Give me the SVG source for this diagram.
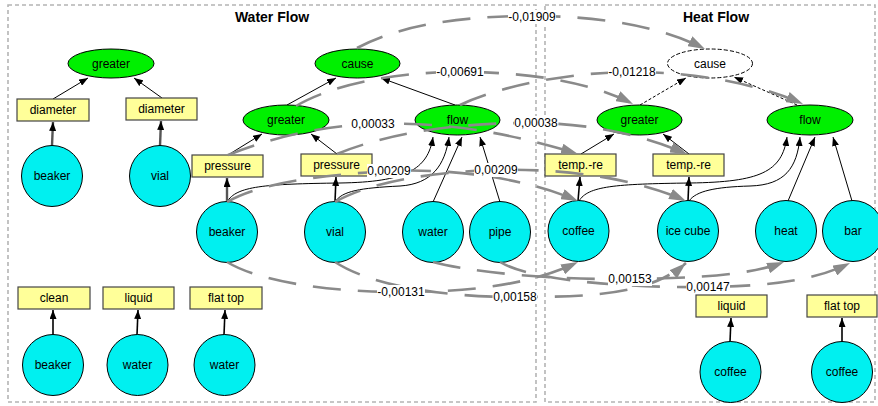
<svg xmlns="http://www.w3.org/2000/svg" width="878" height="406" viewBox="0 0 878 406">
<defs>
<marker id="ab" markerUnits="userSpaceOnUse" markerWidth="9" markerHeight="7" refX="9" refY="3.5" orient="auto"><path d="M0,0 L9,3.5 L0,7 z" fill="#000"/></marker>
<marker id="ag" markerUnits="userSpaceOnUse" markerWidth="17" markerHeight="11" refX="17" refY="5.5" orient="auto"><path d="M0,0 L17,5.5 L0,11 z" fill="#8a8a8a"/></marker>
<style>
.frame{fill:none;stroke:#b4b4b4;stroke-width:1.6;stroke-dasharray:4,3}
.title{font-family:"Liberation Sans",Arial,sans-serif;font-size:14px;font-weight:bold;fill:#000;text-anchor:middle}
.t{font-family:"Liberation Sans",Arial,sans-serif;font-size:12px;fill:#000;text-anchor:middle}
.ell{fill:#00f000;stroke:#000;stroke-width:1}
.ellw{fill:#fff;stroke:#000;stroke-width:1;stroke-dasharray:4,2}
.cir{fill:#00f0f0;stroke:#000;stroke-width:1}
.box{fill:#ffff99;stroke:#444;stroke-width:1.2}
.a{fill:none;stroke:#000;stroke-width:1;marker-end:url(#ab)}
.av{fill:none;stroke:#000;stroke-width:1.6;marker-end:url(#ab)}
.avg{fill:none;stroke:#555;stroke-width:2.4;marker-end:url(#ab)}
.ad{fill:none;stroke:#000;stroke-width:1;stroke-dasharray:3,2;marker-end:url(#ab)}
.m{fill:none;stroke:#8a8a8a;stroke-width:2.6;stroke-dasharray:28,17;marker-end:url(#ag)}
.lb{fill:#fff}
</style>
</defs>
<rect width="878" height="406" fill="#fff"/>
<g id="frames">
<rect class="frame" x="8" y="5" width="528" height="397"/>
<rect class="frame" x="545" y="5" width="330" height="397"/>
<text class="title" x="272" y="22">Water Flow</text>
<text class="title" x="716" y="22">Heat Flow</text>
</g>
<g id="structure-arrows">
<path class="avg" d="M52,146 L53,122"/>
<path class="avg" d="M160,146 L161,121"/>
<path class="a" d="M53,99 L88,78"/>
<path class="a" d="M162,98 L134,78"/>
<path class="avg" d="M227,202 L227,178"/>
<path class="av" d="M335,202 L336,177"/>
<path class="a" d="M228,155 L262,134"/>
<path class="a" d="M337,154 L311,134"/>
<path class="a" d="M287,105 L336,78"/>
<path class="a" d="M455,105 L381,78"/>
<path class="a" d="M227,202 C236,186 265,184 340,183 C405,182 428,170 433,137"/>
<path class="a" d="M335,202 C342,191 360,188 400,186 C432,184 445,165 449,137"/>
<path class="a" d="M433,202 L462,137"/>
<path class="a" d="M500,202 L480,137"/>
<path class="av" d="M578,201 L580,177"/>
<path class="av" d="M688,201 L689,177"/>
<path class="a" d="M581,154 L614,134"/>
<path class="a" d="M689,154 L663,134"/>
<path class="ad" d="M640,105 L686,78"/>
<path class="ad" d="M797,105 L734,77"/>
<path class="a" d="M579,201 C588,186 615,184 690,183 C760,182 782,172 787,137"/>
<path class="a" d="M689,201 C696,191 715,187 750,186 C785,185 797,168 800,137"/>
<path class="a" d="M788,201 L815,137"/>
<path class="a" d="M852,201 L833,137"/>
<path class="av" d="M53,335 L53,310"/>
<path class="av" d="M137,335 L138,310"/>
<path class="av" d="M224,335 L225,310"/>
<path class="av" d="M730,342 L731,318"/>
<path class="av" d="M842,342 L842,318"/>
</g>
<g id="n-greater-a"><ellipse class="ell" cx="111" cy="63.5" rx="43" ry="14.5"/><text class="t" x="111" y="67.5">greater</text></g>
<g id="n-diameter-a"><rect class="box" x="17" y="99" width="72" height="22"/><text class="t" x="53" y="114">diameter</text></g>
<g id="n-diameter-b"><rect class="box" x="126" y="98" width="71" height="22"/><text class="t" x="161.5" y="113">diameter</text></g>
<g id="n-beaker-a"><circle class="cir" cx="52" cy="176" r="30.5"/><text class="t" x="52" y="180">beaker</text></g>
<g id="n-vial-a"><circle class="cir" cx="160" cy="176" r="30.5"/><text class="t" x="160" y="180">vial</text></g>
<g id="n-cause-w"><ellipse class="ell" cx="357.5" cy="63.5" rx="42.5" ry="14.5"/><text class="t" x="357.5" y="67.5">cause</text></g>
<g id="n-greater-w"><ellipse class="ell" cx="286" cy="120" rx="43" ry="15"/><text class="t" x="286" y="124">greater</text></g>
<g id="n-flow-w"><ellipse class="ell" cx="457.5" cy="120" rx="42.5" ry="15"/><text class="t" x="457.5" y="124">flow</text></g>
<g id="n-pressure-a"><rect class="box" x="192" y="155" width="71" height="22"/><text class="t" x="227.5" y="170">pressure</text></g>
<g id="n-pressure-b"><rect class="box" x="301" y="154" width="71" height="22"/><text class="t" x="336.5" y="169">pressure</text></g>
<g id="n-beaker-w"><circle class="cir" cx="227" cy="232" r="30.5"/><text class="t" x="227" y="236">beaker</text></g>
<g id="n-vial-w"><circle class="cir" cx="335" cy="232" r="30.5"/><text class="t" x="335" y="236">vial</text></g>
<g id="n-water-w"><circle class="cir" cx="433" cy="232" r="30.5"/><text class="t" x="433" y="236">water</text></g>
<g id="n-pipe"><circle class="cir" cx="500" cy="232" r="30.5"/><text class="t" x="500" y="236">pipe</text></g>
<g id="n-clean"><rect class="box" x="18" y="287" width="72" height="22"/><text class="t" x="54" y="302">clean</text></g>
<g id="n-liquid-a"><rect class="box" x="103" y="287" width="71" height="22"/><text class="t" x="138.5" y="302">liquid</text></g>
<g id="n-flattop-a"><rect class="box" x="190" y="287" width="72" height="22"/><text class="t" x="226" y="302">flat top</text></g>
<g id="n-beaker-c"><circle class="cir" cx="53" cy="365" r="30.5"/><text class="t" x="53" y="369">beaker</text></g>
<g id="n-water-c"><circle class="cir" cx="137.5" cy="365" r="30.5"/><text class="t" x="137.5" y="369">water</text></g>
<g id="n-water-d"><circle class="cir" cx="224.5" cy="365" r="30.5"/><text class="t" x="224.5" y="369">water</text></g>
<g id="n-cause-h"><ellipse class="ellw" cx="710" cy="63.5" rx="42.5" ry="14.5"/><text class="t" x="710" y="67.5">cause</text></g>
<g id="n-greater-h"><ellipse class="ell" cx="639.5" cy="120" rx="42.5" ry="15"/><text class="t" x="639.5" y="124">greater</text></g>
<g id="n-flow-h"><ellipse class="ell" cx="810" cy="120" rx="43" ry="15"/><text class="t" x="810" y="124">flow</text></g>
<g id="n-temp-a"><rect class="box" x="545" y="154" width="71" height="22"/><text class="t" x="580.5" y="169">temp.-re</text></g>
<g id="n-temp-b"><rect class="box" x="653" y="154" width="71" height="22"/><text class="t" x="688.5" y="169">temp.-re</text></g>
<g id="n-coffee-h"><circle class="cir" cx="578.5" cy="231" r="30.5"/><text class="t" x="578.5" y="235">coffee</text></g>
<g id="n-icecube"><circle class="cir" cx="688" cy="231" r="30.5"/><text class="t" x="688" y="235">ice cube</text></g>
<g id="n-heat"><circle class="cir" cx="786" cy="231" r="30.5"/><text class="t" x="786" y="235">heat</text></g>
<g id="n-bar"><circle class="cir" cx="853" cy="231" r="30.5"/><text class="t" x="853" y="235">bar</text></g>
<g id="n-liquid-h"><rect class="box" x="696" y="295" width="71" height="22"/><text class="t" x="731.5" y="310">liquid</text></g>
<g id="n-flattop-h"><rect class="box" x="807" y="295" width="70" height="22"/><text class="t" x="842" y="310">flat top</text></g>
<g id="n-coffee-b"><circle class="cir" cx="730.5" cy="372" r="30.5"/><text class="t" x="730.5" y="376">coffee</text></g>
<g id="n-coffee-c"><circle class="cir" cx="842" cy="372" r="30.5"/><text class="t" x="842" y="376">coffee</text></g>
<g id="connectors">
<path class="m" d="M357,48 C400,25 460,16 532,16 C600,16 660,26 705,49"/>
<path class="m" d="M296,106 C330,86 390,72 460,72 C530,72 590,82 633,104"/>
<path class="m" d="M460,105 C500,86 570,72 632,72 C700,72 760,85 803,104"/>
<path class="m" d="M228,155 C270,138 320,126 373,124 C440,122 500,130 578,154"/>
<path class="m" d="M337,154 C380,136 450,122 536,123 C600,124 650,138 687,154"/>
<path class="m" d="M227,202 C260,183 320,175 389,171 C460,168 530,180 578,201"/>
<path class="m" d="M335,202 C370,182 430,172 496,170 C570,168 640,180 686,201"/>
<path class="m" d="M227,262 C260,282 330,292 401,292 C470,292 530,285 578,262"/>
<path class="m" d="M335,262 C370,285 440,297 515,297 C590,297 650,295 686,263"/>
<path class="m" d="M433,262 C470,272 550,280 630,279 C700,278 750,275 784,262"/>
<path class="m" d="M500,262 C530,280 620,288 708,287 C780,286 820,278 850,263"/>
</g>
<g id="connector-labels">
<rect class="lb" x="508" y="10" width="48" height="14"/><text class="t" x="532" y="21">-0,01909</text>
<rect class="lb" x="436" y="65" width="48" height="14"/><text class="t" x="460" y="76">-0,00691</text>
<rect class="lb" x="608" y="65" width="48" height="14"/><text class="t" x="632" y="76">-0,01218</text>
<rect class="lb" x="351" y="117" width="44" height="14"/><text class="t" x="373" y="128">0,00033</text>
<rect class="lb" x="514" y="116" width="44" height="14"/><text class="t" x="536" y="127">0,00038</text>
<rect class="lb" x="367" y="164" width="44" height="14"/><text class="t" x="389" y="175">0,00209</text>
<rect class="lb" x="474" y="163" width="44" height="14"/><text class="t" x="496" y="174">0,00209</text>
<rect class="lb" x="377" y="285" width="48" height="14"/><text class="t" x="401" y="296">-0,00131</text>
<rect class="lb" x="493" y="290" width="44" height="14"/><text class="t" x="515" y="301">0,00158</text>
<rect class="lb" x="608" y="272" width="44" height="14"/><text class="t" x="630" y="283">0,00153</text>
<rect class="lb" x="686" y="280" width="44" height="14"/><text class="t" x="708" y="291">0,00147</text>
</g>
</svg>
